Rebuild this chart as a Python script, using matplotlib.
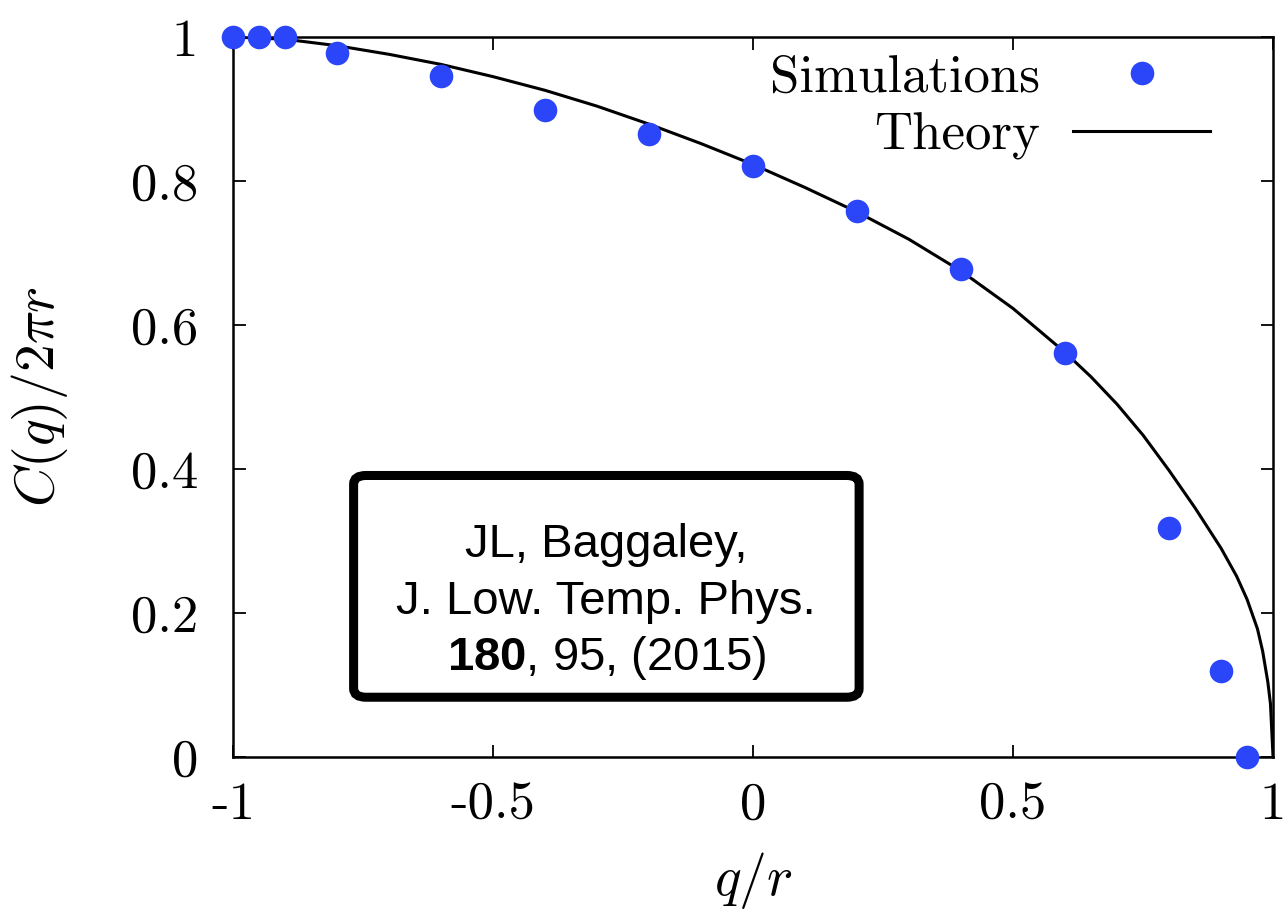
import numpy as np
import matplotlib
matplotlib.use("Agg")
import matplotlib.pyplot as plt
from matplotlib.patches import FancyBboxPatch

plt.rcParams["mathtext.fontset"] = "cm"
plt.rcParams["mathtext.bf"] = "Liberation Sans:bold"
plt.rcParams["axes.unicode_minus"] = False

# simulation points
sim_q = [-1.0, -0.95, -0.9, -0.8, -0.6, -0.4, -0.2, 0.0, 0.2, 0.4, 0.6, 0.8, 0.9, 0.95]
sim_c = [1.0, 1.0, 1.0, 0.978, 0.946, 0.899, 0.866, 0.821, 0.758, 0.678, 0.561, 0.318, 0.119, 0.0]

# theory curve
th_q = [-1.0, -0.9, -0.8, -0.7, -0.6, -0.5, -0.4, -0.3, -0.2, -0.1, 0.0, 0.1, 0.2, 0.3,
        0.4, 0.5, 0.6, 0.65, 0.7, 0.75, 0.8, 0.85, 0.9, 0.93, 0.95, 0.97, 0.98, 0.99, 0.995, 1.0]
th_c = [1.0, 0.997, 0.988, 0.976, 0.962, 0.945, 0.926, 0.904, 0.879, 0.852, 0.823, 0.791, 0.757, 0.719,
        0.675, 0.623, 0.562, 0.528, 0.490, 0.447, 0.398, 0.346, 0.290, 0.251, 0.219, 0.178, 0.147,
        0.104, 0.074, 0.0]

xtick_vals = [-1, -0.5, 0, 0.5, 1]
xtick_labels = ["-1", "-0.5", "0", "0.5", "1"]
ytick_vals = [0, 0.2, 0.4, 0.6, 0.8, 1]
ytick_labels = ["0", "0.2", "0.4", "0.6", "0.8", "1"]

fig = plt.figure(figsize=(12.85, 9.19), dpi=100)
ax = fig.add_axes([0.1813, 0.1763, 0.8094, 0.7834])

ax.plot(th_q, th_c, color="black", lw=2.2, label="Theory", zorder=2)
ax.plot(sim_q, sim_c, "o", color="#2a46f8", ms=17, mec="none",
        label="Simulations", clip_on=False, zorder=3)

ax.set_xlim(-1, 1)
ax.set_ylim(0, 1)
ax.set_xticks(xtick_vals)
ax.set_xticklabels(xtick_labels, fontfamily="cmr10", fontsize=38)
ax.set_yticks(ytick_vals)
ax.set_yticklabels(ytick_labels, fontfamily="cmr10", fontsize=38)
ax.tick_params(direction="in", top=True, right=True, length=9, width=1.3)
ax.tick_params(axis="y", pad=25)
ax.tick_params(axis="x", pad=18)
for sp in ax.spines.values():
    sp.set_linewidth(1.8)

ax.set_xlabel(r"$q/r$", fontsize=40)
ax.set_ylabel(r"$C(q)/2\pi r$", fontsize=40)
ax.xaxis.set_label_coords(0.5, -0.171)
ax.yaxis.set_label_coords(-0.186, 0.5)
ax.xaxis.label.set_va("center")
ax.yaxis.label.set_va("center")

# legend: text on the left, key on the right
handles, labels = ax.get_legend_handles_labels()
leg = ax.legend(handles[::-1], labels[::-1], loc="upper right", frameon=False,
                markerfirst=False, prop={"family": "cmr10", "size": 38},
                handlelength=2.6, handletextpad=0.63, labelspacing=0.2,
                borderaxespad=0.0, bbox_to_anchor=(0.96, 1.005))

# citation box
box = FancyBboxPatch((0.116, 0.083), 0.486, 0.308, transform=ax.transAxes,
                     boxstyle="round,pad=0,rounding_size=0.012",
                     fc="white", ec="black", lw=6.5, zorder=4)
ax.add_patch(box)
lines = ["JL, Baggaley,", "J. Low. Temp. Phys.", r"$\mathbf{180}$, 95, (2015)"]
ys = [0.294, 0.215, 0.137]
for s, y in zip(lines, ys):
    ax.text(0.359, y, s, transform=ax.transAxes, ha="center", va="center",
            fontsize=34, fontfamily="Liberation Sans", math_fontfamily="custom", zorder=5)

fig.savefig("out.png", dpi=100)
